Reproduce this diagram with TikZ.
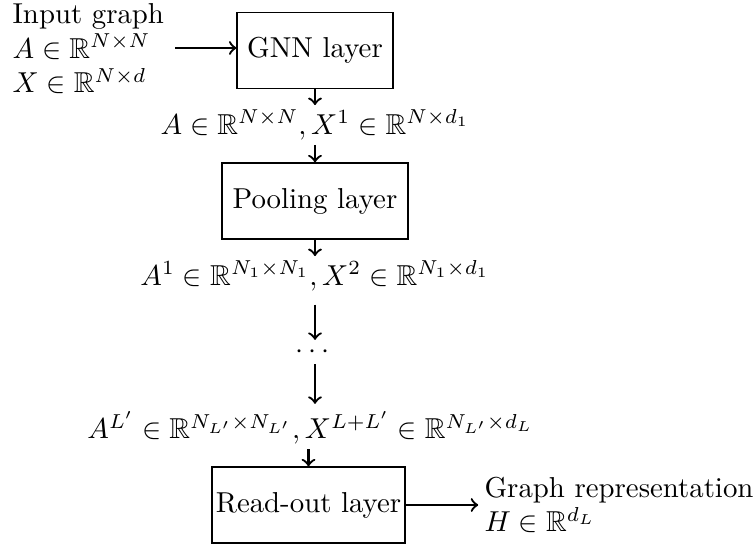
\documentclass[tikz,border=0pt]{standalone}
\usepackage{amsmath,amssymb}
\begin{document}
\begin{tikzpicture}[x=0.347pt,y=-0.347pt,
  layer/.style={draw,minimum height=26.4pt,inner sep=0pt},
  lbl/.style={inner sep=1.5pt},
  conn/.style={->,thick}]
\useasboundingbox (0,0) rectangle (756,546);
\node[anchor=north west,align=left,inner sep=0pt] (in) at (12,3)
  {Input graph\\$A\in\mathbb{R}^{N\times N}$\\$X\in\mathbb{R}^{N\times d}$};
\node[layer,minimum width=54.1pt] (gnn) at (315,50.5) {GNN layer};
\coordinate (ins) at (175,48);
\draw[conn] (ins) -- (gnn.west |- ins);
\node[lbl] (t1) at (315,125) {$A\in\mathbb{R}^{N\times N},X^1\in\mathbb{R}^{N\times d_1}$};
\node[layer,minimum width=64.5pt] (pool) at (315,201) {Pooling layer};
\node[lbl] (t2) at (315,276) {$A^1\in\mathbb{R}^{N_1\times N_1},X^2\in\mathbb{R}^{N_1\times d_1}$};
\node[inner sep=0pt,minimum height=8pt] (dots) at (315,352) {$\cdots$};
\node[lbl] (t3) at (310.5,428) {$A^{L'}\in\mathbb{R}^{N_{L'}\times N_{L'}},X^{L+L'}\in\mathbb{R}^{N_{L'}\times d_L}$};
\node[layer,minimum width=67pt] (ro) at (308.5,505) {Read-out layer};
\node[anchor=west,align=left,inner sep=0pt] (out) at (484,505)
  {Graph representation\\$H\in\mathbb{R}^{d_L}$};
\draw[conn] (gnn) -- (t1);
\draw[conn] (t1) -- (pool);
\draw[conn] (pool) -- (t2);
\draw[conn] ([yshift=-3pt]t2.south -| dots) -- (dots);
\draw[conn] (dots) -- ([yshift=1pt]t3.north -| dots);
\draw[conn] (t3.south -| ro) -- (ro);
\draw[conn] (ro.east) -- ([xshift=-2pt]out.west |- ro.east);
\end{tikzpicture}
\end{document}
